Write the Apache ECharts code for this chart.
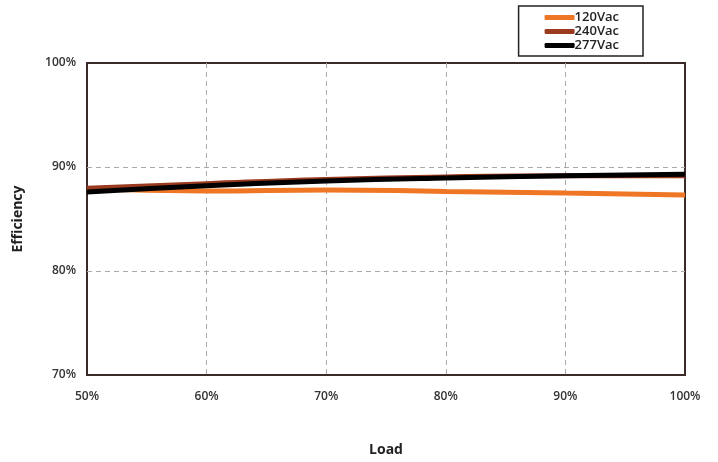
<!DOCTYPE html>
<html><head><meta charset="utf-8">
<script src="https://cdn.jsdelivr.net/npm/echarts@6/dist/echarts.min.js"></script>
<style>html,body{margin:0;padding:0;background:#fff}#c{width:718px;height:462px}</style>
</head><body><div id="c"></div>
<script>
const loads = [50, 60, 70, 80, 90, 100];
const eff120 = [87.9, 87.7, 87.8, 87.65, 87.5, 87.3];
const eff240 = [87.95, 88.4, 88.8, 89.05, 89.15, 89.15];
const eff277 = [87.6, 88.2, 88.65, 88.95, 89.15, 89.3];
const seriesNames = ['120Vac', '240Vac', '277Vac'];
const colors = ['#ee7624', '#9a3a1e', '#000000'];

const chart = echarts.init(document.getElementById('c'));
const dataSets = [eff120, eff240, eff277];
const split = { show: true, showMinLine: false, showMaxLine: false, lineStyle: { type: [5, 4], color: '#aaa', width: 1 } };
chart.setOption({
  animation: false,
  textStyle: { fontFamily: 'Open Sans' },
  grid: { left: 87, right: 33, top: 63, bottom: 87, show: true, borderColor: '#3a2a28', borderWidth: 2 },
  legend: {
    orient: 'vertical', right: 75, top: 6,
    data: seriesNames,
    itemWidth: 30, itemHeight: 5, itemGap: 1,
    borderColor: '#222', borderWidth: 1.5, padding: [5, 24, 4, 26],
    textStyle: { fontSize: 13, fontWeight: 600, color: '#222', padding: [0, 0, 0, -5] },
    icon: 'roundRect'
  },
  xAxis: {
    type: 'value', min: 50, max: 100, interval: 10,
    name: 'Load', nameLocation: 'middle', nameGap: 68,
    nameTextStyle: { fontSize: 14, fontWeight: 'bold', color: '#222' },
    axisLine: { show: false }, axisTick: { show: false },
    axisLabel: { formatter: '{value}%', fontSize: 12, fontWeight: 600, color: '#333', margin: 16 },
    splitLine: split
  },
  yAxis: {
    type: 'value', min: 70, max: 100, interval: 10,
    name: 'Efficiency', nameLocation: 'middle', nameGap: 62,
    nameTextStyle: { fontSize: 14, fontWeight: 'bold', color: '#222' },
    axisLine: { show: false }, axisTick: { show: false },
    axisLabel: { formatter: '{value}%', fontSize: 12, fontWeight: 600, color: '#333', margin: 11 },
    splitLine: split
  },
  series: seriesNames.map((n, i) => ({
    name: n, type: 'line', smooth: true, symbol: 'none',
    data: loads.map((x, j) => [x, dataSets[i][j]]),
    lineStyle: { color: colors[i], width: 5 },
    itemStyle: { color: colors[i] }
  }))
});
</script></body></html>
